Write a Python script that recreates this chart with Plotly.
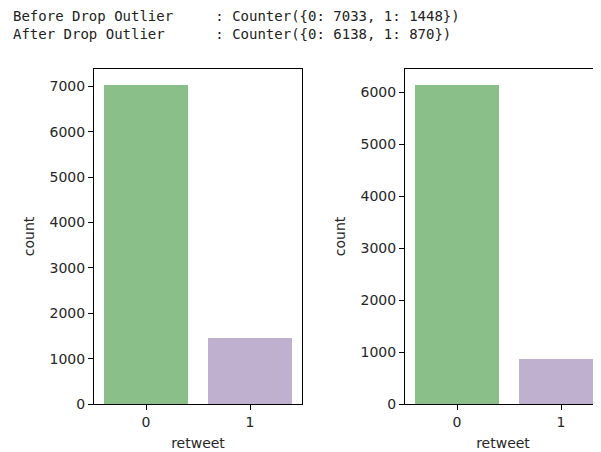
import plotly.graph_objects as go

categories = ["0", "1"]
before_counts = [7033, 1448]
after_counts = [6138, 870]
bar_colors = ["#8bbf89", "#bfb0d0"]
line1 = "Before Drop Outlier     : Counter({0: 7033, 1: 1448})"
line2 = "After Drop Outlier      : Counter({0: 6138, 1: 870})"

# page body has an 8px margin; work in screen pixels and subtract it
OFF = 8
W, H = 601 - OFF, 452 - OFF

def px_x(v):
    return (v - OFF) / W

def px_y(v):
    return 1 - (v - OFF) / H

fig = go.Figure()
fig.add_trace(go.Bar(x=[0, 1], y=before_counts, marker=dict(color=bar_colors, line=dict(width=0)),
                     width=0.8, xaxis="x", yaxis="y", showlegend=False))
fig.add_trace(go.Bar(x=[0, 1], y=after_counts, marker=dict(color=bar_colors, line=dict(width=0)),
                     width=0.8, xaxis="x2", yaxis="y2", showlegend=False))

tickfont = dict(family="DejaVu Sans", size=14, color="#262626")
titlefont = dict(family="DejaVu Sans", size=14, color="#262626")

common_x = dict(tickmode="array", tickvals=[0, 1], ticktext=categories, showline=True, linecolor="#000000",
                linewidth=1, mirror=True, ticks="outside", ticklen=5, tickwidth=1, tickcolor="#000000",
                showgrid=False, zeroline=False, tickfont=tickfont, automargin=False,
                title=dict(text="retweet", font=titlefont, standoff=9))
common_y = dict(showline=True, linecolor="#000000", linewidth=1, mirror=True, ticks="outside", ticklen=5,
                tickwidth=1, tickcolor="#000000", showgrid=False, zeroline=False, tickfont=tickfont,
                automargin=False, dtick=1000, title=dict(text="count", font=titlefont, standoff=11))

fig.update_layout(
    width=W, height=H,
    margin=dict(l=0, r=0, t=0, b=0),
    plot_bgcolor="white", paper_bgcolor="white",
    bargap=0,
    xaxis=dict(domain=[px_x(94), px_x(302)], range=[-0.5, 1.5], anchor="y", **common_x),
    yaxis=dict(domain=[px_y(404), px_y(69)], range=[0, max(before_counts) * 1.05], anchor="x", **common_y),
    xaxis2=dict(domain=[px_x(405), 1.0], range=[-0.5, -0.5 + (601 - 405) / 104.0], anchor="y2", **common_x),
    yaxis2=dict(domain=[px_y(404), px_y(69)], range=[0, max(after_counts) * 1.05], anchor="x2", **common_y),
)

for i, t in enumerate([line1, line2]):
    fig.add_annotation(text=t.replace(" ", "&nbsp;"), xref="paper", yref="paper", x=px_x(11), y=px_y(16 + 18 * i),
                       xanchor="left", yanchor="middle", showarrow=False,
                       font=dict(family="DejaVu Sans Mono", size=14, color="#222222"))

fig.write_html("out.html")
